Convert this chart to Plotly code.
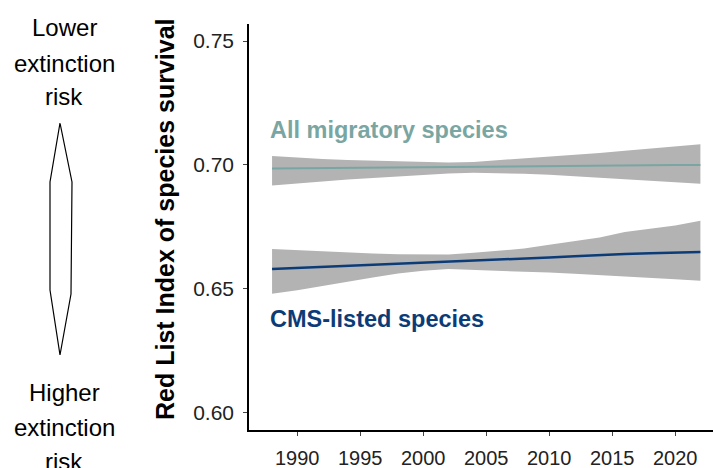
import plotly.graph_objects as go

# Red List Index trend estimates with confidence bands
years = [1988, 1990, 1992, 1994, 1996, 1998, 2000, 2002, 2004,
         2006, 2008, 2010, 2012, 2014, 2016, 2018, 2020, 2022]

all_mid = [0.6985, 0.6986, 0.6987, 0.6988, 0.6989, 0.6990, 0.6990, 0.6991, 0.6992,
           0.6993, 0.6994, 0.6995, 0.6996, 0.6997, 0.6997, 0.6998, 0.6999, 0.6999]
all_hi = [0.7036, 0.7029, 0.7024, 0.7020, 0.7017, 0.7014, 0.7012, 0.7010, 0.7012,
          0.7019, 0.7026, 0.7032, 0.7039, 0.7048, 0.7057, 0.7066, 0.7074, 0.7083]
all_lo = [0.6917, 0.6926, 0.6934, 0.6941, 0.6947, 0.6953, 0.6958, 0.6965, 0.6968,
          0.6967, 0.6964, 0.6960, 0.6955, 0.6949, 0.6943, 0.6937, 0.6930, 0.6924]

cms_mid = [0.6579, 0.6583, 0.6587, 0.6591, 0.6595, 0.6599, 0.6603, 0.6607, 0.6612,
           0.6617, 0.6621, 0.6626, 0.6631, 0.6636, 0.6640, 0.6643, 0.6646, 0.6648]
cms_hi = [0.6660, 0.6655, 0.6650, 0.6646, 0.6642, 0.6639, 0.6637, 0.6638, 0.6645,
          0.6652, 0.6662, 0.6677, 0.6692, 0.6707, 0.6729, 0.6742, 0.6755, 0.6774]
cms_lo = [0.6479, 0.6494, 0.6511, 0.6527, 0.6545, 0.6561, 0.6572, 0.6579, 0.6578,
          0.6574, 0.6569, 0.6565, 0.6560, 0.6555, 0.6549, 0.6544, 0.6538, 0.6532]

x_ticks = [1990, 1995, 2000, 2005, 2010, 2015, 2020]
y_ticks = [0.60, 0.65, 0.70, 0.75]
y_tick_text = ["0.60", "0.65", "0.70", "0.75"]

upper_label = ["Lower", "extinction", "risk"]
lower_label = ["Higher", "extinction", "risk"]

TEAL = "#79a6a2"
NAVY = "#0c3c78"
BAND = "#b3b3b3"
FONT = "Liberation Sans, Arial, sans-serif"

W, H = 713, 468
L, R, T, B = 249, 0, 24, 38


def px_to_paper(px, py):
    return (px - L) / (W - L - R), (H - B - py) / (H - T - B)


fig = go.Figure()

for lo, hi, mid, col, w in [(all_lo, all_hi, all_mid, TEAL, 2),
                            (cms_lo, cms_hi, cms_mid, NAVY, 2.5)]:
    fig.add_trace(go.Scatter(x=years + years[::-1], y=hi + lo[::-1], fill="toself",
                             fillcolor=BAND, line=dict(width=0), mode="lines",
                             hoverinfo="skip", showlegend=False))
    fig.add_trace(go.Scatter(x=years, y=mid, mode="lines",
                             line=dict(color=col, width=w), showlegend=False))

# series labels
fig.add_annotation(x=1987.65, y=0.7139, xref="x", yref="y", text="<b>All migratory species</b>",
                   showarrow=False, xanchor="left", yanchor="middle",
                   font=dict(family=FONT, size=23.5, color=TEAL))
fig.add_annotation(x=1987.65, y=0.6378, xref="x", yref="y", text="<b>CMS-listed species</b>",
                   showarrow=False, xanchor="left", yanchor="middle",
                   font=dict(family=FONT, size=23.5, color=NAVY))

# y-axis title
tx, ty = px_to_paper(165, 219)
fig.add_annotation(x=tx, y=ty, xref="paper", yref="paper",
                   text="<b>Red List Index of species survival</b>", textangle=-90,
                   showarrow=False, xanchor="center", yanchor="middle",
                   font=dict(family=FONT, size=25, color="black"))

# risk direction labels, one line at a time for the wider line spacing
for words, rows in [(upper_label, [27, 63, 97]), (lower_label, [392, 427, 462])]:
    for word, row in zip(words, rows):
        ax, ay = px_to_paper(64, row)
        fig.add_annotation(x=ax, y=ay, xref="paper", yref="paper", text=word,
                           showarrow=False, xanchor="center", yanchor="middle",
                           font=dict(family=FONT, size=24, color="black"))

# double-headed arrow outline
pts = [(60, 123), (72, 182), (71, 294), (60, 355), (50, 290), (50, 182)]
path = ""
for i, (px, py) in enumerate(pts):
    a, b = px_to_paper(px, py)
    path += ("M" if i == 0 else "L") + f"{a:.5f},{b:.5f} "
path += "Z"
fig.add_shape(type="path", path=path, xref="paper", yref="paper",
              line=dict(color="black", width=1.2), fillcolor="white")

fig.update_layout(
    width=W, height=H,
    margin=dict(l=L, r=R, t=T, b=B),
    paper_bgcolor="white", plot_bgcolor="white",
    font=dict(family=FONT, size=21, color="#222222"),
    xaxis=dict(range=[1986.17, 2023.0], tickvals=x_ticks, showgrid=False, zeroline=False,
               showline=True, linecolor="black", linewidth=1.5,
               ticks="outside", ticklen=4, tickcolor="#444444", tickwidth=1,
               ticklabelstandoff=5, tickfont=dict(family=FONT, size=20, color="#222222")),
    yaxis=dict(range=[0.5929, 0.7569], tickvals=y_ticks, ticktext=y_tick_text,
               showgrid=False, zeroline=False,
               showline=True, linecolor="black", linewidth=1.5,
               ticks="outside", ticklen=4, tickcolor="#444444", tickwidth=1,
               ticklabelstandoff=5, tickfont=dict(family=FONT, size=21, color="#222222")),
)

fig.write_html("out.html")
